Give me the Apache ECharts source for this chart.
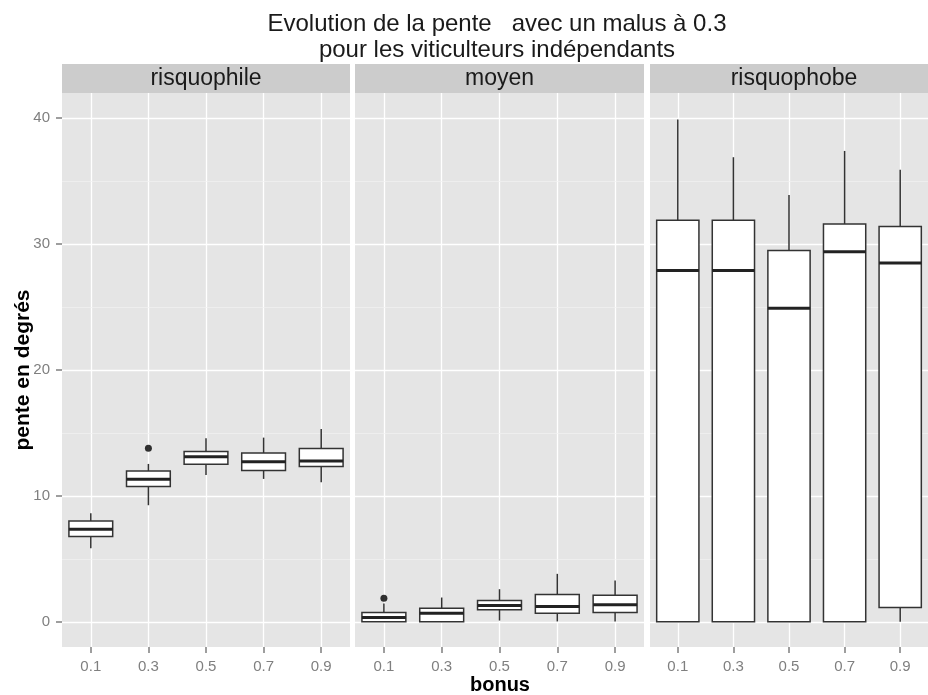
<!DOCTYPE html>
<html>
<head>
<meta charset="utf-8">
<script src="https://cdn.jsdelivr.net/npm/echarts@6/dist/echarts.min.js"></script>
<style>
html, body { margin: 0; padding: 0; background: #fff; }
#main { width: 928px; height: 695px; }
</style>
</head>
<body>
<div id="main"></div>
<script>
var myChart = echarts.init(document.getElementById('main'));

var bonus = ['0.1', '0.3', '0.5', '0.7', '0.9'];
var profils = ['risquophile', 'moyen', 'risquophobe'];

// [min, Q1, mediane, Q3, max]
var risquophile = [
    [5.85, 6.77, 7.35, 8.0, 8.63],
    [9.26, 10.74, 11.32, 11.98, 12.54],
    [11.67, 12.51, 13.12, 13.52, 14.58],
    [11.35, 12.01, 12.72, 13.41, 14.63],
    [11.09, 12.33, 12.78, 13.76, 15.32]
];
var moyen = [
    [0, 0, 0.34, 0.74, 1.45],
    [0, 0, 0.69, 1.08, 1.93],
    [0.1, 0.95, 1.3, 1.69, 2.59],
    [0.03, 0.69, 1.22, 2.17, 3.81],
    [0.03, 0.74, 1.35, 2.11, 3.28]
];
var risquophobe = [
    [0, 0, 27.9, 31.9, 39.9],
    [0, 0, 27.9, 31.9, 36.9],
    [0, 0, 24.9, 29.5, 33.9],
    [0, 0, 29.4, 31.6, 37.4],
    [0, 1.14, 28.5, 31.4, 35.9]
];
var outRisquophile = [['0.3', 13.78]];
var outMoyen = [['0.1', 1.88]];
var outRisquophobe = [];

var yTicks = [0, 10, 20, 30, 40];
var yMinor = [5, 15, 25, 35];

var boxes = [risquophile, moyen, risquophobe];
var outliers = [outRisquophile, outMoyen, outRisquophobe];

var font = '"Liberation Sans", Arial, Helvetica, sans-serif';
var panels = [{left: 62, width: 288}, {left: 355, width: 289}, {left: 650, width: 288}];
var plotTop = 93, plotHeight = 554;

var grids = [], xAxes = [], yAxes = [], series = [], graphics = [];

panels.forEach(function (p, i) {
    grids.push({
        left: p.left, top: plotTop, width: p.width, height: plotHeight,
        show: true, backgroundColor: '#E5E5E5', borderWidth: 0
    });
    xAxes.push({
        type: 'category', gridIndex: i, data: bonus,
        axisLine: {show: true, onZero: false, lineStyle: {opacity: 0}},
        axisTick: {show: true, alignWithLabel: true, length: 6, lineStyle: {color: '#7F7F7F', width: 1.5}},
        axisLabel: {color: '#7F7F7F', fontSize: 15, fontFamily: font, margin: 12},
        splitLine: {show: true, alignWithLabel: true, lineStyle: {color: '#fff', width: 1.3}}
    });
    yAxes.push({
        type: 'value', gridIndex: i, min: -2, max: 42,
        axisLine: {show: true, lineStyle: {opacity: 0}},
        axisTick: {show: i === 0, customValues: yTicks, length: 6, lineStyle: {color: '#7F7F7F', width: 1.5}},
        axisLabel: {show: i === 0, customValues: yTicks, color: '#7F7F7F', fontSize: 15, fontFamily: font, margin: 12},
        splitLine: {show: true, lineStyle: {color: '#fff', width: 1.3}}
    });

    // lignes mineures
    series.push({
        type: 'line', xAxisIndex: i, yAxisIndex: i, data: [], z: 1,
        markLine: {
            silent: true, symbol: 'none', z: 1,
            label: {show: false},
            lineStyle: {color: '#F2F2F2', width: 0.7, type: 'solid'},
            data: yMinor.map(function (v) { return {yAxis: v}; })
        }
    });

    series.push({
        type: 'custom', xAxisIndex: i, yAxisIndex: i, z: 3,
        data: boxes[i].map(function (d, j) { return [j].concat(d); }),
        encode: {x: 0, y: [1, 2, 3, 4, 5]},
        renderItem: function (params, api) {
            var x = api.value(0);
            var pMin = api.coord([x, api.value(1)]);
            var pQ1 = api.coord([x, api.value(2)]);
            var pMed = api.coord([x, api.value(3)]);
            var pQ3 = api.coord([x, api.value(4)]);
            var pMax = api.coord([x, api.value(5)]);
            var bw = api.size([1, 0])[0] * 0.76;
            var cx = pMed[0];
            var stroke = {stroke: '#333', lineWidth: 1.5, fill: null};
            return {
                type: 'group',
                children: [
                    {type: 'line', shape: {x1: cx, y1: pMax[1], x2: cx, y2: pQ3[1]}, style: stroke},
                    {type: 'line', shape: {x1: cx, y1: pQ1[1], x2: cx, y2: pMin[1]}, style: stroke},
                    {type: 'rect', shape: {x: cx - bw / 2, y: pQ3[1], width: bw, height: pQ1[1] - pQ3[1]},
                        style: {fill: '#fff', stroke: '#333', lineWidth: 1.5}},
                    {type: 'line', shape: {x1: cx - bw / 2, y1: pMed[1], x2: cx + bw / 2, y2: pMed[1]},
                        style: {stroke: '#222', lineWidth: 3}}
                ]
            };
        }
    });

    series.push({
        type: 'scatter', xAxisIndex: i, yAxisIndex: i, z: 4,
        data: outliers[i], symbolSize: 7,
        itemStyle: {color: '#000'}
    });

    graphics.push({
        type: 'rect', left: p.left, top: 64,
        shape: {width: p.width, height: 29},
        style: {fill: '#CCCCCC'}
    });
    graphics.push({
        type: 'text', x: p.left + p.width / 2, y: 79,
        style: {text: profils[i], fill: '#1a1a1a', font: '23px ' + font, textAlign: 'center', textVerticalAlign: 'middle'}
    });
});

graphics.push({
    type: 'text', x: 497, y: 24,
    style: {text: 'Evolution de la pente   avec un malus à 0.3', fill: '#1a1a1a', font: '24px ' + font,
        textAlign: 'center', textVerticalAlign: 'middle'}
});
graphics.push({
    type: 'text', x: 497, y: 50,
    style: {text: 'pour les viticulteurs indépendants', fill: '#1a1a1a', font: '24px ' + font,
        textAlign: 'center', textVerticalAlign: 'middle'}
});
graphics.push({
    type: 'text', x: 500, y: 685,
    style: {text: 'bonus', fill: '#000', font: 'bold 20px ' + font, textAlign: 'center', textVerticalAlign: 'middle'}
});
graphics.push({
    type: 'text', x: 23, y: 370, rotation: Math.PI / 2,
    style: {text: 'pente en degrés', fill: '#000', font: 'bold 21px ' + font, textAlign: 'center', textVerticalAlign: 'middle'}
});

option = {
    animation: false,
    grid: grids,
    xAxis: xAxes,
    yAxis: yAxes,
    series: series,
    graphic: graphics
};

myChart.setOption(option);
</script>
</body>
</html>
